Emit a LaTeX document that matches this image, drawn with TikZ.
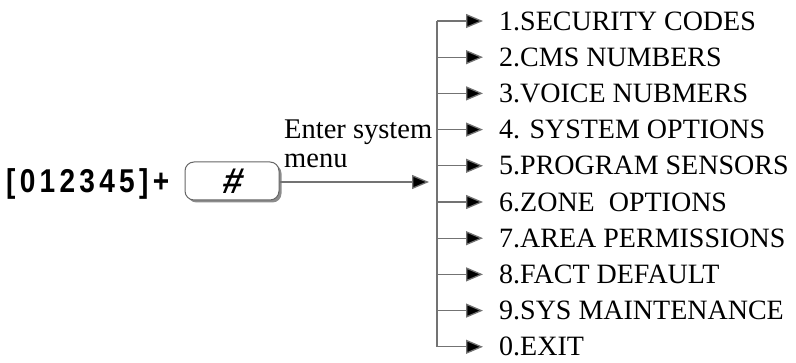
\documentclass[tikz,border=0pt]{standalone}
\usepackage{fontspec}
\setmainfont{Liberation Serif}
\newfontfamily\keyfont[FakeStretch=0.85,LetterSpace=13]{Liberation Sans}
\newfontfamily\hashfont[FakeSlant=0.2]{Liberation Sans}
\usetikzlibrary{arrows.meta,positioning,shadows}

\begin{document}
\begin{tikzpicture}[x=1pt, y=-1pt,
        line/.style={draw=black!55, line width=1.3pt},
        tip/.style={-{Triangle[length=17pt,width=14pt]}, arrows={[fill=black]}},
        item/.style={anchor=west, inner sep=0pt, font=\fontsize{28}{30}\selectfont},
        keybox/.style={draw=black!60, line width=1pt, rounded corners=9pt, minimum width=94pt, minimum height=38pt,
            drop shadow={shadow xshift=2.5pt, shadow yshift=-2.5pt, fill=black!45, opacity=1}, fill=white}]
    \useasboundingbox (0,0) rectangle (796,363);

    % key sequence
    \node [anchor=west, inner sep=0pt, font=\keyfont\bfseries\fontsize{33}{36}\selectfont] (code) at (6,184) {[012345]+};
    \node [keybox, font=\hashfont\bfseries\fontsize{36}{36}\selectfont] (hash) at (232,181) {\#};

    % label over the arrow
    \node [anchor=base west, inner sep=0pt, font=\fontsize{28.5}{30}\selectfont] (enter) at (284,139) {Enter system};
    \node [anchor=base west, inner sep=0pt, font=\fontsize{28.5}{30}\selectfont] (menu) at (284,168) {menu};

    % trunk
    \coordinate (in) at (429,182);
    \coordinate (top) at (437,21);
    \coordinate (bot) at (437,347);
    \draw [line, tip] (hash.east |- in) -- (in);
    \draw [line] (top) -- (bot);

    % menu items
    \foreach \txt [count=\i] in {1.SECURITY CODES, 2.CMS NUMBERS, 3.VOICE NUBMERS, 4. SYSTEM OPTIONS,
            5.PROGRAM SENSORS, 6.ZONE\ \ OPTIONS, 7.AREA PERMISSIONS, 8.FACT DEFAULT,
            9.SYS MAINTENANCE, 0.EXIT}
    {
        \coordinate (b\i) at (437, {21+36.2*(\i-1)});
        \node [item] (m\i) at (499, {21+36.2*(\i-1)}) {\txt};
        \draw [line, tip] (b\i) -- ([xshift=-16pt]m\i.west);
    }

\end{tikzpicture}
\end{document}
